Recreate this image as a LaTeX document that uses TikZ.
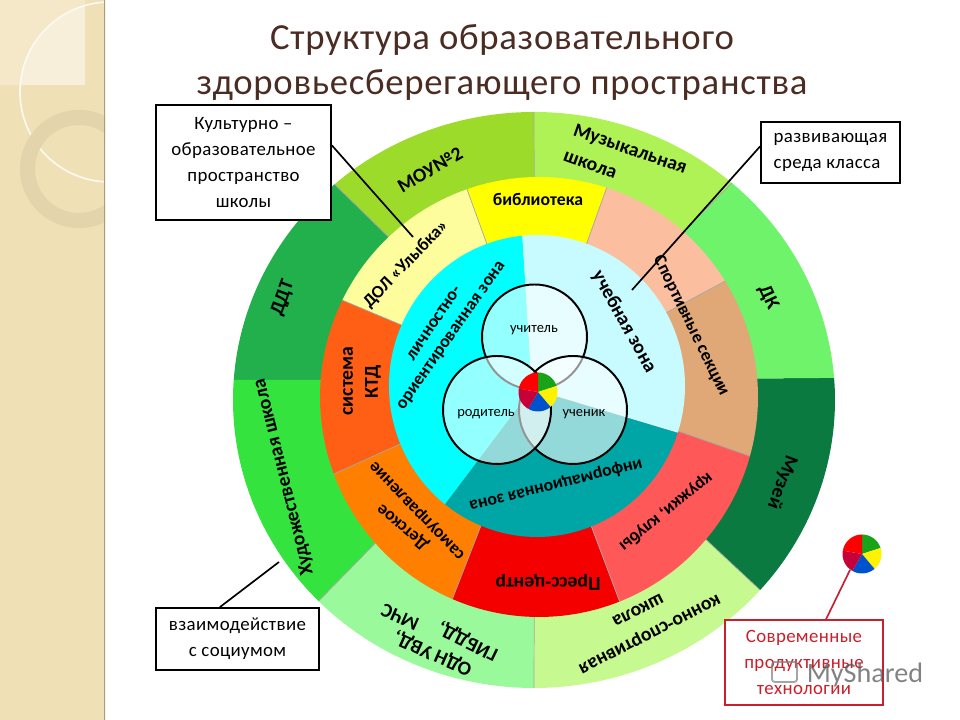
\documentclass[tikz,border=0pt]{standalone}
\usepackage{fontspec}
\setmainfont{Carlito}
\newfontfamily\thinfont[LetterSpace=2]{Carlito}
\usetikzlibrary{positioning}
\definecolor{titlecol}{HTML}{4A2C22}
\definecolor{panelcol}{HTML}{F0E0B6}
\definecolor{ringcol}{HTML}{E4D4AC}
\definecolor{redbox}{HTML}{C8202C}
\tikzset{
  rimline/.style={black!35,line width=0.5pt},
  lab/.style={font=\bfseries\fontsize{14}{16}\selectfont,inner sep=0pt},
  labsmall/.style={font=\bfseries\fontsize{12.6}{14}\selectfont,inner sep=0pt},
  vennlab/.style={font=\fontsize{10.3}{12}\selectfont,inner sep=0pt},
  vennring/.style={draw=black,line width=1.4pt,fill=white,fill opacity=0.58},
  callbox/.style={draw=black,line width=1.2pt,fill=white,align=center,inner sep=0pt,
    font=\thinfont\fontsize{13.4}{18.4}\selectfont},
  callline/.style={black,line width=1.2pt},
  titletext/.style={text=titlecol,inner sep=0pt,font=\thinfont\fontsize{26.1}{30}\selectfont},
  pielogo/.pic={
    \foreach \from/\to/\col in {90/18/green!60!black!90,18/-50/yellow,-50/-120/blue!60!cyan!80!black,
        -120/-190/purple!90!red,170/90/red}
      \fill[\col] (0,0) -- (\from:19.5) arc[start angle=\from,end angle=\to,radius=19.5] -- cycle;
  }
}
\begin{document}
\begin{tikzpicture}[x=0.025cm,y=0.025cm]
    \useasboundingbox (0,0) rectangle (960,720);
    %% left panel
    \begin{scope}
      \clip (0,0) rectangle (105,720);
      \fill[panelcol] (0,0) rectangle (105,720);
      \fill[panelcol!75!white] (0,635) rectangle (85,720);
      \begin{scope}
        \clip (0,635) rectangle (85,720);
        \fill[panelcol!50!white] (110,628) circle (90);
      \end{scope}
      \draw[panelcol!20!white,line width=1.2pt] (110,628) circle (90);
      \fill[ringcol,even odd rule] (79,551) circle (59) (79,551) circle (44);
      \draw[panelcol!70!black,line width=1.2pt] (105,0) -- (105,720);
    \end{scope}
    %% outer ring
    \foreach \from/\to/\col in {90/131.5/9DDB2B,131.5/176/22B04C,176/224.3/35E33F,224.3/270/99F99B,
        270/318.7/C6FA90,318.7/364.4/0A7A40,4.4/48.9/6FF36A,48.9/90/AEF255} {
      \definecolor{cellcol}{HTML}{\col}
      \fill[cellcol] (535,340) -- ([shift={(534,320)}]\from:301 and 288)
        arc[start angle=\from,end angle=\to,x radius=301,y radius=288] -- cycle;
    }
    \foreach \a in {90,131.5,224.3,270,318.7,48.9}
      \draw[rimline] (535,340) -- ([shift={(534,320)}]\a:301 and 288);
    %% middle ring
    \foreach \from/\to/\col in {72/109.2/FFFF00,109.2/153.9/FDFD9E,153.9/200.5/FF5F14,200.5/246.7/FF8000,
        246.7/291.6/F50000,291.6/344.4/FF5858,344.4/391.8/E0A876,31.8/72/FBBF9F} {
      \definecolor{cellcol}{HTML}{\col}
      \fill[cellcol] (537,338) -- ([shift={(539,323)}]\from:219 and 220)
        arc[start angle=\from,end angle=\to,x radius=219,y radius=220] -- cycle;
    }
    \foreach \a in {72,109.2,153.9,200.5,246.7,291.6,344.4,31.8}
      \draw[rimline] (537,338) -- ([shift={(539,323)}]\a:219 and 220);
    %% inner disc
    \foreach \from/\to/\col in {95.7/231.6/00FFFF,231.6/342/00A5A5,342/455.7/C8FBFF} {
      \definecolor{cellcol}{HTML}{\col}
      \fill[cellcol] (532,331) -- ([shift={(537,334)}]\from:148 and 151)
        arc[start angle=\from,end angle=\to,x radius=148,y radius=151] -- cycle;
    }
    %% three circles and colour wheel
    \draw[vennring] (534.5,383) circle (52.5);
    \draw[vennring] (573,310) circle (54);
    \draw[vennring] (497,310) circle (54);
    \pic at (538,328) {pielogo};
    \node[vennlab] (teacher) at (534,390) {учитель};
    \node[vennlab] (parent) at (486,306) {родитель};
    \node[vennlab] (pupil) at (584,306) {ученик};
    %% outer ring labels
    \node[lab,rotate=30] (moulab) at (430,550) {МОУ№2};
    \node[lab,rotate=70] (ddtlab) at (283,422) {ДДТ};
    \node[lab,rotate=104] (artlab) at (284,243) {Художественная школа};
    \node[lab,rotate=156] (odnlab) at (433,67) {ОДН УВД,};
    \node[lab,rotate=154] (gibddlab) at (468,79) {ГИБДД,};
    \node[lab,rotate=156] (mchslab) at (400,103) {МЧС};
    \node[lab,rotate=207] (horselab) at (649,87) {конно-спортивная};
    \node[lab,rotate=207] (horsetwo) at (638,110) {школа};
    \node[lab,rotate=-110] (muslab) at (782,238) {Музей};
    \node[lab,rotate=-65] (dklab) at (768,423) {ДК};
    \node[lab,rotate=-19] (musiclab) at (630,570) {Музыкальная};
    \node[lab,rotate=-20] (musictwo) at (590,555) {школа};
    %% middle ring labels
    \node[labsmall] (liblab) at (538,521) {библиотека};
    \node[labsmall,rotate=46] (dollab) at (406,456) {ДОЛ «Улыбка»};
    \node[lab,rotate=90] (syslab) at (348,339) {система};
    \node[lab,rotate=90] (ktdlab) at (373,338) {КТД};
    \node[labsmall,rotate=140] (kidlab) at (403,193) {Детское};
    \node[labsmall,rotate=134] (selflab) at (418,210) {самоуправление};
    \node[lab,rotate=180] (presslab) at (548,138) {Пресс-центр};
    \node[labsmall,rotate=219] (clublab) at (666,208) {кружки, клубы};
    \node[labsmall,rotate=-64] (sportlab) at (691,394) {Спортивные секции};
    %% inner labels
    \node[lab,rotate=-61] (studylab) at (624,398) {учебная зона};
    \node[labsmall,rotate=56] (perslab) at (434,397) {личностно-};
    \node[labsmall,rotate=55] (perstwo) at (452,384) {ориентированная зона};
    \node[labsmall,rotate=194] (infolab) at (556,235) {информационная зона};
    %% title
    \node[titletext] (titleone) at (502,680) {Структура образовательного};
    \node[titletext] (titletwo) at (502,635) {здоровьесберегающего пространства};
    %% boxes
    \node[callbox,minimum width=175*0.025cm,minimum height=115*0.025cm] (cultbox) at (243.5,557.5)
      {Культурно –\\образовательное\\пространство\\школы};
    \node[callbox,minimum width=139*0.025cm,minimum height=61*0.025cm,align=left] (devbox) at (830.5,567.5)
      {развивающая\\среда класса};
    \node[callbox,minimum width=163*0.025cm,minimum height=62*0.025cm] (socbox) at (237.5,81)
      {взаимодействие\\с социумом};
    \node[callbox,draw=redbox,text=redbox,minimum width=158*0.025cm,minimum height=85*0.025cm] (techbox) at (804,57.5)
      {Современные\\продуктивные\\технологии};
    %% connectors
    \coordinate (cultend) at (413,483);
    \coordinate (devend) at (632,430);
    \coordinate (socend) at (279,158);
    \coordinate (pieend) at (850,150);
    \draw[callline] (cultbox.11) -- (cultend);
    \draw[callline] (devbox.175) -- (devend);
    \draw[callline] (socbox.119) -- (socend);
    \draw[callline,redbox] (techbox.63) -- (pieend);
    \pic at (862,166) {pielogo};
    %% watermark
    \draw[black!50,line width=1.3pt,rounded corners=2pt,opacity=0.7] (772,38) rectangle (797,58);
    \node[text=black!65,opacity=0.75,inner sep=0pt,font=\fontsize{20}{22}\selectfont] (marklab) at (865,45) {MyShared};
\end{tikzpicture}
\end{document}
